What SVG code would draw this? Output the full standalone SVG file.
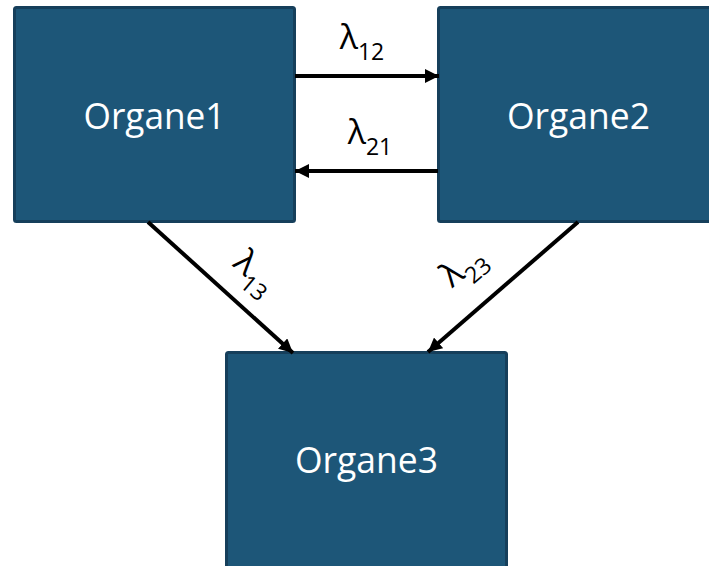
<svg xmlns="http://www.w3.org/2000/svg" width="709" height="566" viewBox="0 0 709 566">
  <style>
    .box { fill: #1d5678; stroke: #163f5b; stroke-width: 3; }
    .name { fill: #ffffff; font-family: "Open Sans", "Noto Sans", sans-serif; font-size: 36px; text-anchor: middle; }
    .edge { stroke: #000000; stroke-width: 4; fill: none; marker-end: url(#head); }
    .rate { fill: #000000; font-family: "Open Sans", "Noto Sans", sans-serif; font-size: 34px; text-anchor: middle; }
    .sub { font-size: 23px; }
  </style>
  <defs>
    <marker id="head" markerUnits="userSpaceOnUse" markerWidth="16" markerHeight="14" refX="14" refY="7" orient="auto">
      <path d="M0,0 L14,7 L0,14 z" fill="#000000"/>
    </marker>
  </defs>

  <!-- organs -->
  <g id="organe1">
    <rect class="box" x="14.5" y="7.5" width="280" height="214" rx="2"/>
    <text class="name" x="154.5" y="129" textLength="142" lengthAdjust="spacingAndGlyphs">Organe1</text>
  </g>
  <g id="organe2">
    <rect class="box" x="438.5" y="7.5" width="280" height="214" rx="2"/>
    <text class="name" x="578.5" y="129" textLength="143" lengthAdjust="spacingAndGlyphs">Organe2</text>
  </g>
  <g id="organe3">
    <rect class="box" x="226.5" y="352.5" width="280" height="220" rx="2"/>
    <text class="name" x="366.5" y="473" textLength="143" lengthAdjust="spacingAndGlyphs">Organe3</text>
  </g>

  <!-- transfer connectors -->
  <g id="connectors">
    <line class="edge" x1="295" y1="76" x2="439" y2="76"/>
    <line class="edge" x1="438" y1="171" x2="295" y2="171"/>
    <line class="edge" x1="148" y1="222" x2="293" y2="353"/>
    <line class="edge" x1="578" y1="222" x2="428" y2="352"/>
  </g>

  <!-- rate labels -->
  <g id="labels">
    <text class="rate" x="362" y="49">λ<tspan class="sub" dy="11">12</tspan></text>
    <text class="rate" x="370" y="144">λ<tspan class="sub" dy="11">21</tspan></text>
    <g transform="translate(252,276) rotate(40)">
      <text class="rate" x="0" y="5">λ<tspan class="sub" dy="11">13</tspan></text>
    </g>
    <g transform="translate(466,270) rotate(-40)">
      <text class="rate" x="0" y="5">λ<tspan class="sub" dy="11">23</tspan></text>
    </g>
  </g>
</svg>
